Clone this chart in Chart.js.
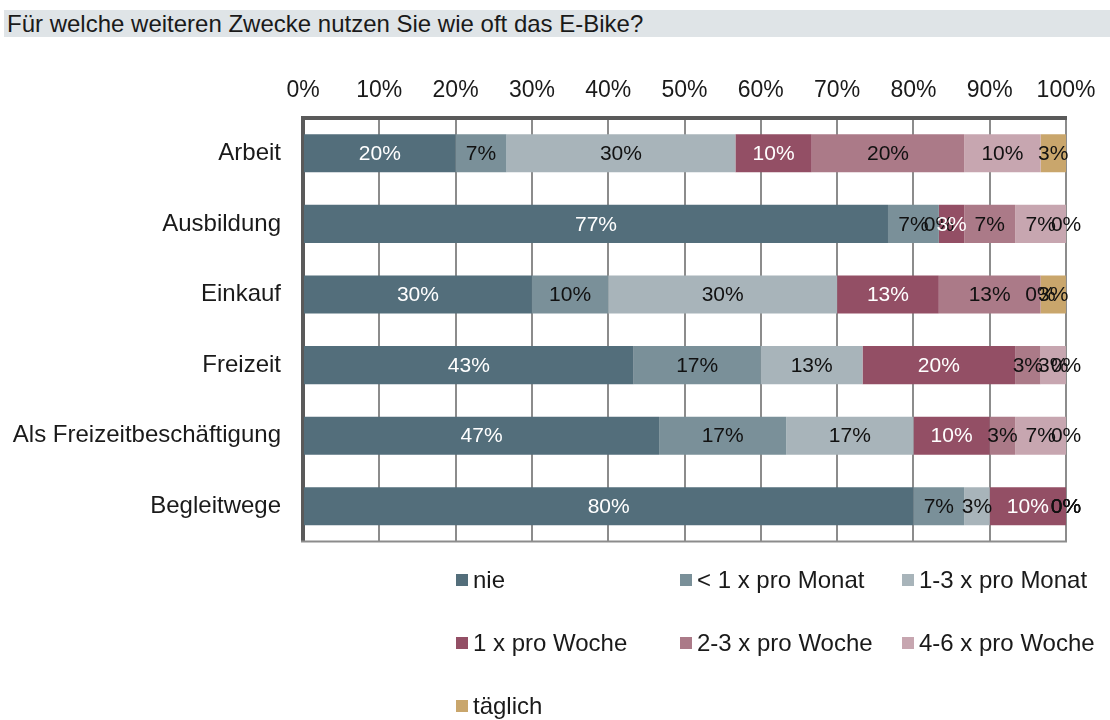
<!DOCTYPE html>
<html>
<head>
<meta charset="utf-8">
<script src="https://cdn.jsdelivr.net/npm/chart.js@4.4.0/dist/chart.umd.min.js"></script>
<style>
  body { margin: 0; background: #fff; font-family: "Liberation Sans", Arial, sans-serif; color: #1a1a1a; }
  #title { position: absolute; left: 4px; top: 10px; width: 1106px; height: 27px; background: #dfe4e7;
           font-size: 24px; line-height: 27px; padding-left: 3px; box-sizing: border-box; white-space: nowrap; }
  #wrap { position: absolute; left: 0; top: 40px; width: 1110px; height: 538px; }
  #legend { position: absolute; left: 456px; top: 563px; display: grid;
            grid-template-columns: 224px 222px 200px; grid-auto-rows: 63px; font-size: 24px; }
  #legend div { display: flex; align-items: center; height: 34px; white-space: nowrap; }
  #legend span { display: inline-block; width: 12px; height: 12px; margin-right: 5px; }
</style>
</head>
<body>
<div id="title">Für welche weiteren Zwecke nutzen Sie wie oft das E-Bike?</div>
<div id="wrap"><canvas id="chart"></canvas></div>
<div id="legend"></div>
<script>
// Kategorien und Antworten (Anteile in %)
const categories = ["Arbeit", "Ausbildung", "Einkauf", "Freizeit", "Als Freizeitbeschäftigung", "Begleitwege"];
const seriesLabels = ["nie", "< 1 x pro Monat", "1-3 x pro Monat", "1 x pro Woche", "2-3 x pro Woche", "4-6 x pro Woche", "täglich"];
const seriesColors = ["#536e7b", "#7a9099", "#a8b4ba", "#934f65", "#ab7a88", "#c7a6b0", "#c9a66c"];
const labelColors = ["#ffffff", "#111111", "#111111", "#ffffff", "#111111", "#111111", "#111111"];

const nie        = [20.00, 76.67, 30.00, 43.33, 46.67, 80.00];
const unter1Mon  = [6.67, 6.67, 10.00, 16.67, 16.67, 6.67];
const einsDrei   = [30.00, 0, 30.00, 13.33, 16.67, 3.33];
const einmalWo   = [10.00, 3.33, 13.33, 20.00, 10.00, 10.00];
const zweiDreiWo = [20.00, 6.67, 13.33, 3.33, 3.33, 0];
const vierSechsWo = [10.00, 6.67, 0, 3.33, 6.67, 0];
const taeglich   = [3.33, 0, 3.33, 0, 0, 0];
const seriesValues = [nie, unter1Mon, einsDrei, einmalWo, zweiDreiWo, vierSechsWo, taeglich];

const tickLabels = ["0%", "10%", "20%", "30%", "40%", "50%", "60%", "70%", "80%", "90%", "100%"];

const FONT = "'Liberation Sans', Arial, sans-serif";

// Beschriftung in der Mitte jedes Segments
const segmentLabels = {
  id: 'segmentLabels',
  afterDatasetsDraw(chart) {
    const ctx = chart.ctx;
    ctx.save();
    ctx.font = "21px " + FONT;
    ctx.textAlign = 'center';
    ctx.textBaseline = 'middle';
    chart.data.datasets.forEach((ds, i) => {
      chart.getDatasetMeta(i).data.forEach((bar, j) => {
        const p = bar.getProps(['x', 'y', 'base'], true);
        ctx.fillStyle = labelColors[i];
        ctx.fillText(Math.round(ds.data[j]) + '%', (p.x + p.base) / 2, p.y + 1);
      });
    });
    ctx.restore();
  }
};

// untere Rahmenlinie
const frameBottom = {
  id: 'frameBottom',
  beforeDatasetsDraw(chart) {
    const a = chart.chartArea, ctx = chart.ctx;
    ctx.save();
    ctx.strokeStyle = '#8c8c8c';
    ctx.lineWidth = 2;
    ctx.beginPath();
    ctx.moveTo(a.left - 2, a.bottom);
    ctx.lineTo(a.right + 1, a.bottom);
    ctx.stroke();
    ctx.restore();
  }
};

new Chart(document.getElementById('chart'), {
  type: 'bar',
  data: {
    labels: categories,
    datasets: seriesValues.map((vals, i) => ({
      label: seriesLabels[i],
      data: vals,
      backgroundColor: seriesColors[i],
      borderWidth: 0,
      barPercentage: 0.54,
      categoryPercentage: 1
    }))
  },
  options: {
    indexAxis: 'y',
    responsive: true,
    maintainAspectRatio: false,
    animation: false,
    layout: { padding: { left: 0, right: 44, top: 0, bottom: 0 } },
    plugins: { legend: { display: false }, tooltip: { enabled: false } },
    scales: {
      x: {
        position: 'top',
        stacked: true,
        min: 0, max: 100,
        afterFit: s => { s.height = 78; },
        afterBuildTicks: s => { s.ticks = tickLabels.map((t, k) => ({ value: k * 10 })); },
        ticks: {
          callback: (v, k) => tickLabels[k],
          color: '#1a1a1a',
          font: { family: FONT, size: 23 },
          padding: 14,
          maxRotation: 0
        },
        grid: { color: '#8c8c8c', lineWidth: 2, drawTicks: false },
        border: { display: true, color: '#5a5a5a', width: 4 }
      },
      y: {
        stacked: true,
        afterFit: s => { s.width = 303; },
        ticks: {
          color: '#1a1a1a',
          font: { family: FONT, size: 24 },
          padding: 22
        },
        grid: { display: false, drawTicks: false },
        border: { display: true, color: '#5a5a5a', width: 4 }
      }
    }
  },
  plugins: [segmentLabels, frameBottom]
});

// Legende in drei Spalten
const legend = document.getElementById('legend');
seriesLabels.forEach((name, i) => {
  const item = document.createElement('div');
  const box = document.createElement('span');
  box.style.background = seriesColors[i];
  item.appendChild(box);
  item.appendChild(document.createTextNode(name));
  legend.appendChild(item);
});
</script>
</body>
</html>
